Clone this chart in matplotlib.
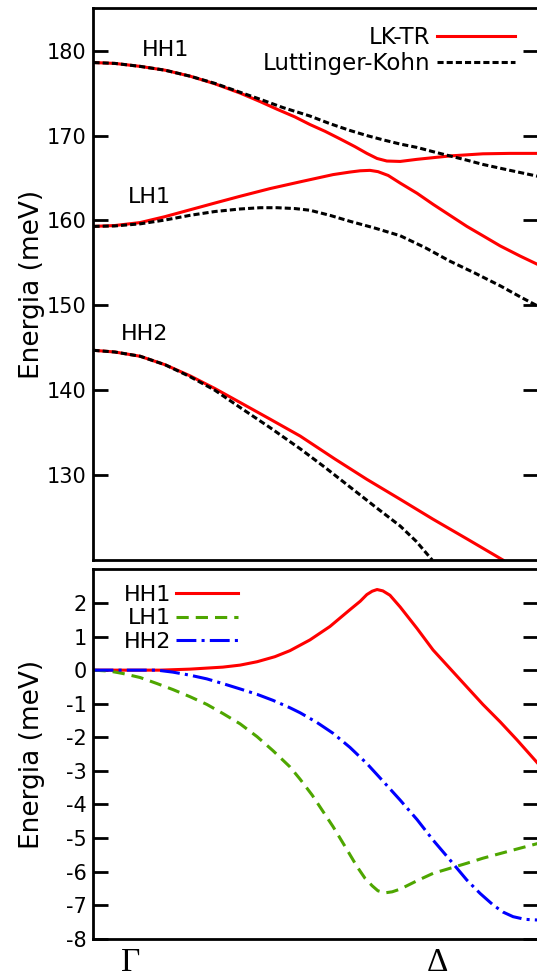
import numpy as np
import matplotlib
matplotlib.use('Agg')
import matplotlib.pyplot as plt

plt.rcParams['font.family'] = ['DejaVu Sans']
plt.rcParams['axes.unicode_minus'] = False

# k along Gamma -> Delta (0 = left edge, 1 = right edge)
# top panel: band energies (meV), LK-TR (solid) and Luttinger-Kohn (dashed)
k_hh1_tr = [0, 0.048, 0.105, 0.161, 0.217, 0.273, 0.330, 0.375, 0.413, 0.453, 0.487, 0.521,
            0.555, 0.588, 0.615, 0.638, 0.660, 0.690, 0.728, 0.802, 0.876, 0.937, 1.0]
e_hh1_tr = [178.6, 178.5, 178.15, 177.7, 177.0, 176.1, 175.0, 174.0, 173.1, 172.2, 171.3, 170.5,
            169.6, 168.7, 167.9, 167.3, 167.0, 166.95, 167.2, 167.6, 167.85, 167.9, 167.9]

k_hh1_lk = [0, 0.048, 0.105, 0.161, 0.217, 0.273, 0.330, 0.379, 0.426, 0.487, 0.532, 0.577,
            0.615, 0.651, 0.690, 0.728, 0.764, 0.802, 0.840, 0.876, 0.937, 1.0]
e_hh1_lk = [178.6, 178.5, 178.15, 177.7, 177.0, 176.15, 175.1, 174.2, 173.3, 172.3, 171.4, 170.6,
            170.0, 169.5, 169.0, 168.6, 168.1, 167.6, 167.1, 166.6, 165.9, 165.2]

k_lh1_tr = [0, 0.048, 0.105, 0.161, 0.217, 0.273, 0.330, 0.397, 0.465, 0.539, 0.577, 0.600,
            0.622, 0.640, 0.663, 0.690, 0.728, 0.764, 0.802, 0.840, 0.876, 0.915, 0.960, 1.0]
e_lh1_tr = [159.3, 159.4, 159.75, 160.45, 161.25, 162.05, 162.85, 163.75, 164.55, 165.4, 165.7, 165.85,
            165.9, 165.75, 165.3, 164.4, 163.2, 161.9, 160.6, 159.3, 158.2, 157.0, 155.8, 154.8]

k_lh1_lk = [0, 0.048, 0.105, 0.161, 0.217, 0.273, 0.330, 0.375, 0.413, 0.453, 0.487, 0.532,
            0.577, 0.633, 0.690, 0.746, 0.802, 0.858, 0.915, 0.960, 1.0]
e_lh1_lk = [159.3, 159.35, 159.6, 160.05, 160.6, 161.05, 161.35, 161.5, 161.5, 161.4, 161.2, 160.6,
            159.9, 159.1, 158.2, 156.8, 155.2, 153.8, 152.3, 151.0, 149.9]

k_hh2_tr = [0, 0.048, 0.105, 0.161, 0.217, 0.273, 0.330, 0.397, 0.465, 0.543, 0.615, 0.690,
            0.764, 0.843, 0.921]
e_hh2_tr = [144.7, 144.5, 144.0, 143.0, 141.7, 140.2, 138.55, 136.6, 134.6, 131.9, 129.5, 127.15,
            124.8, 122.4, 120.0]

k_hh2_lk = [0, 0.048, 0.105, 0.161, 0.217, 0.273, 0.330, 0.397, 0.465, 0.521, 0.577, 0.633,
            0.690, 0.726, 0.762]
e_hh2_lk = [144.7, 144.5, 144.0, 143.0, 141.6, 140.0, 137.96, 135.6, 133.1, 130.9, 128.6, 126.3,
            124.0, 122.2, 120.0]

# bottom panel: energy difference (meV)
k_d_hh1 = [0, 0.082, 0.150, 0.217, 0.291, 0.330, 0.368, 0.408, 0.442, 0.487, 0.532, 0.577, 0.600,
           0.615, 0.627, 0.638, 0.651, 0.667, 0.690, 0.728, 0.764, 0.802, 0.840, 0.876, 0.915,
           0.953, 1.0]
d_hh1 = [0, 0, 0.0, 0.03, 0.09, 0.15, 0.25, 0.4, 0.58, 0.9, 1.3, 1.8, 2.05,
         2.25, 2.35, 2.4, 2.36, 2.23, 1.88, 1.24, 0.6, 0.05, -0.5, -1.02, -1.54,
         -2.08, -2.78]

k_d_lh1 = [0, 0.037, 0.066, 0.105, 0.143, 0.179, 0.217, 0.255, 0.291, 0.330, 0.368, 0.404,
           0.442, 0.465, 0.492, 0.516, 0.539, 0.566, 0.593, 0.611, 0.627, 0.640, 0.656, 0.672,
           0.690, 0.728, 0.764, 0.802, 0.840, 0.876, 0.915, 0.960, 1.0]
d_lh1 = [0, -0.03, -0.1, -0.22, -0.4, -0.58, -0.79, -1.02, -1.29, -1.6, -1.98, -2.4,
         -2.88, -3.25, -3.72, -4.2, -4.66, -5.25, -5.85, -6.2, -6.42, -6.57, -6.63, -6.6,
         -6.52, -6.27, -6.05, -5.9, -5.75, -5.6, -5.46, -5.3, -5.16]

k_d_hh2 = [0, 0.143, 0.179, 0.217, 0.255, 0.291, 0.330, 0.368, 0.404, 0.442, 0.465, 0.503,
           0.539, 0.577, 0.615, 0.651, 0.690, 0.728, 0.764, 0.802, 0.840, 0.870, 0.899, 0.921,
           0.944, 0.971, 1.0]
d_hh2 = [0, 0, -0.06, -0.15, -0.26, -0.4, -0.56, -0.72, -0.90, -1.12, -1.27, -1.56,
         -1.88, -2.3, -2.78, -3.3, -3.87, -4.45, -5.06, -5.65, -6.25, -6.65, -6.99, -7.2,
         -7.34, -7.42, -7.44]

top_ticks = [130, 140, 150, 160, 170, 180]
bot_ticks = [2, 1, 0, -1, -2, -3, -4, -5, -6, -7, -8]
k_labels = [0.084, 0.773]
k_names = ['Γ', 'Δ']

fig = plt.figure(figsize=(5.37, 9.80), dpi=100)
ax1 = fig.add_axes([0.1741, 0.4286, 0.8277, 0.563])
ax2 = fig.add_axes([0.1741, 0.0420, 0.8277, 0.377])

lw = 2.2
dash = (0, (2.0, 1.0))
ax1.plot(k_hh1_tr, e_hh1_tr, color='#ff0000', lw=lw, label='LK-TR')
ax1.plot(k_lh1_tr, e_lh1_tr, color='#ff0000', lw=lw)
ax1.plot(k_hh2_tr, e_hh2_tr, color='#ff0000', lw=lw)
ax1.plot(k_hh1_lk, e_hh1_lk, color='black', lw=lw, ls=dash, label='Luttinger-Kohn')
ax1.plot(k_lh1_lk, e_lh1_lk, color='black', lw=lw, ls=dash)
ax1.plot(k_hh2_lk, e_hh2_lk, color='black', lw=lw, ls=dash)

ax1.set_xlim(0, 1)
ax1.set_ylim(120, 185)
ax1.set_yticks(top_ticks)
ax1.set_xticks([])
ax1.set_ylabel('Energia (meV)', fontsize=19)
ax1.yaxis.set_label_coords(-0.109, 0.5)

ax1.text(0.163, 180.1, 'HH1', fontsize=16, ha='center', va='center')
ax1.text(0.126, 162.8, 'LH1', fontsize=16, ha='center', va='center')
ax1.text(0.116, 146.6, 'HH2', fontsize=16, ha='center', va='center')

ax1.legend(loc='upper right', bbox_to_anchor=(0.948, 0.9686), frameon=False,
           markerfirst=False, fontsize=16.5, handlelength=3.4, handletextpad=0.3,
           labelspacing=0.15, borderpad=0, borderaxespad=0)

ax2.plot(k_d_hh1, d_hh1, color='#ff0000', lw=lw, label='HH1')
ax2.plot(k_d_lh1, d_lh1, color='#4ea600', lw=lw, ls=(0, (4, 2.3)), label='LH1')
ax2.plot(k_d_hh2, d_hh2, color='#0000ff', lw=lw, ls=(0, (6.5, 1.7, 1, 1.7)), label='HH2')

ax2.set_xlim(0, 1)
ax2.set_ylim(-8, 3)
ax2.set_yticks(bot_ticks)
ax2.set_xticks(k_labels, k_names, family='Liberation Serif', fontsize=24)
ax2.set_ylabel('Energia (meV)', fontsize=19)
ax2.yaxis.set_label_coords(-0.109, 0.5)

ax2.legend(loc='upper right', bbox_to_anchor=(0.325, 0.959), frameon=False,
           markerfirst=False, fontsize=16, handlelength=2.8, handletextpad=0.2,
           labelspacing=0.17, borderpad=0, borderaxespad=0)

for ax in (ax1, ax2):
    for s in ax.spines.values():
        s.set_linewidth(2.0)
    ax.tick_params(axis='y', direction='in', length=11, width=2.0, labelsize=15,
                   pad=5, left=True, right=True)
    ax.tick_params(axis='x', length=0, pad=6)

fig.savefig('out.png', dpi=100)
